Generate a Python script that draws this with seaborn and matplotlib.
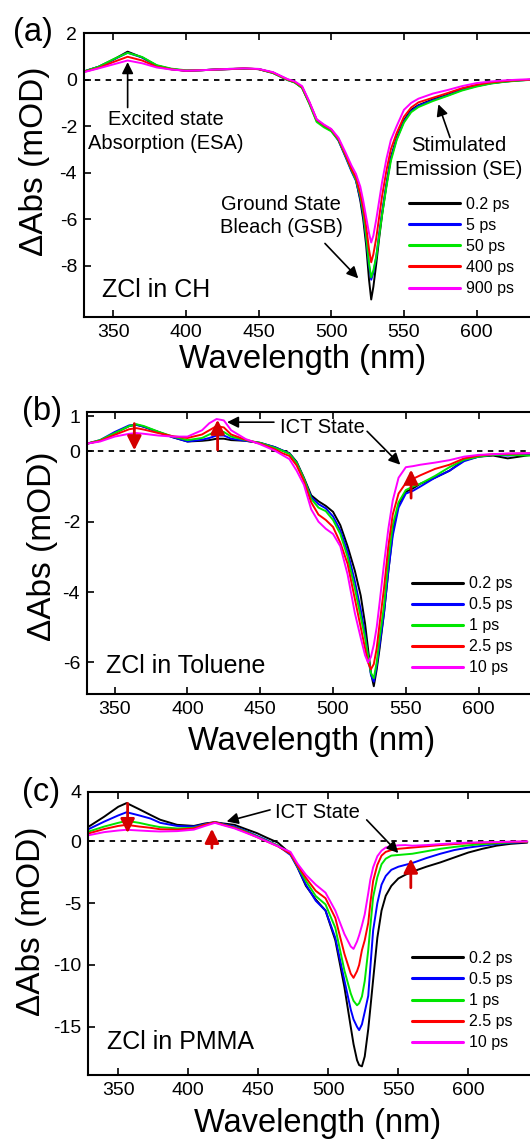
import matplotlib
matplotlib.use("Agg")
import matplotlib.pyplot as plt
import pandas as pd
import seaborn as sns

# ---- panel (a): ZCl in CH ----
wl_a = [330, 340, 350, 360, 370, 380, 390, 400, 410, 420, 430, 440, 450, 460,
        465, 470, 475, 480, 485, 490, 495, 500, 505, 510, 514, 517, 520, 522,
        524, 526, 527.5, 529, 531, 533, 535, 538, 541, 545, 550, 555, 560, 570,
        580, 590, 600, 610, 620, 630, 640]
black_a = [0.35, 0.55, 0.85, 1.2, 0.95, 0.6, 0.45, 0.38, 0.4, 0.43, 0.45, 0.47, 0.45, 0.3,
           0.15, 0.0, -0.12, -0.35, -1.0, -1.75, -1.97, -2.15, -2.6, -3.3, -3.9, -4.3, -5.2, -6.0,
           -7.1, -8.6, -9.45, -8.9, -7.9, -6.8, -5.8, -4.5, -3.35, -2.5, -1.75, -1.3, -1.1, -0.85,
           -0.65, -0.42, -0.27, -0.15, -0.08, -0.03, 0.0]
blue_a = [0.35, 0.55, 0.85, 1.15, 0.95, 0.6, 0.45, 0.38, 0.4, 0.43, 0.45, 0.47, 0.45, 0.28,
          0.13, -0.02, -0.12, -0.35, -1.02, -1.78, -2.0, -2.2, -2.62, -3.35, -3.95, -4.35, -5.1, -5.8,
          -6.8, -8.0, -8.6, -8.3, -7.6, -6.6, -5.7, -4.5, -3.4, -2.55, -1.8, -1.35, -1.12, -0.88,
          -0.68, -0.44, -0.28, -0.16, -0.08, -0.03, 0.0]
green_a = [0.35, 0.55, 0.87, 1.15, 0.97, 0.62, 0.47, 0.4, 0.4, 0.43, 0.46, 0.47, 0.45, 0.28,
           0.13, -0.02, -0.13, -0.36, -1.05, -1.82, -2.05, -2.22, -2.6, -3.3, -3.9, -4.3, -5.0, -5.7,
           -6.7, -7.9, -8.5, -8.2, -7.6, -6.7, -5.8, -4.6, -3.5, -2.6, -1.85, -1.4, -1.18, -0.92,
           -0.7, -0.47, -0.3, -0.17, -0.09, -0.04, 0.0]
red_a = [0.33, 0.5, 0.75, 0.98, 0.82, 0.55, 0.44, 0.38, 0.4, 0.43, 0.45, 0.48, 0.45, 0.3,
         0.15, 0.0, -0.1, -0.32, -0.98, -1.72, -1.96, -2.14, -2.55, -3.25, -3.85, -4.2, -4.9, -5.5,
         -6.3, -7.3, -7.85, -7.5, -6.8, -5.9, -5.0, -3.9, -3.0, -2.3, -1.6, -1.2, -0.98, -0.78,
         -0.58, -0.37, -0.22, -0.12, -0.06, -0.02, 0.0]
magenta_a = [0.32, 0.48, 0.65, 0.82, 0.7, 0.52, 0.43, 0.38, 0.4, 0.43, 0.46, 0.48, 0.46, 0.32,
             0.17, 0.02, -0.08, -0.28, -0.95, -1.7, -1.93, -2.12, -2.5, -3.15, -3.7, -4.05, -4.6, -5.2,
             -5.9, -6.6, -7.0, -6.7, -6.0, -5.2, -4.4, -3.4, -2.6, -2.0, -1.3, -1.0, -0.82, -0.6,
             -0.45, -0.28, -0.15, -0.08, -0.03, 0.0, 0.02]

# ---- panel (b): ZCl in Toluene ----
wl_b = [331, 340, 350, 360, 365, 370, 380, 390, 400, 410, 415, 420, 425, 430, 440, 450,
        460, 465, 470, 475, 480, 485, 490, 495, 500, 505, 510, 515, 519, 522, 524, 526,
        528, 530, 532, 535, 538, 541, 545, 550, 555, 560, 570, 580, 590, 600, 610, 620, 636]
black_b = [0.22, 0.3, 0.52, 0.72, 0.76, 0.7, 0.55, 0.4, 0.28, 0.3, 0.32, 0.36, 0.36, 0.32, 0.3, 0.24,
           0.12, 0.03, -0.05, -0.3, -0.75, -1.25, -1.42, -1.55, -1.72, -2.1, -2.7, -3.4, -4.1, -4.9, -5.6, -6.3,
           -6.68, -6.2, -5.6, -4.6, -3.4, -2.3, -1.5, -1.15, -1.05, -0.92, -0.75, -0.55, -0.25, -0.15, -0.12, -0.2, -0.1]
blue_b = [0.22, 0.32, 0.55, 0.74, 0.75, 0.7, 0.55, 0.4, 0.28, 0.33, 0.38, 0.45, 0.45, 0.36, 0.3, 0.24,
          0.12, 0.03, -0.06, -0.32, -0.78, -1.3, -1.5, -1.62, -1.85, -2.25, -2.85, -3.7, -4.5, -5.2, -5.8, -6.35,
          -6.55, -6.1, -5.5, -4.6, -3.4, -2.4, -1.6, -1.2, -1.12, -1.0, -0.75, -0.55, -0.28, -0.15, -0.1, -0.12, -0.08]
green_b = [0.22, 0.32, 0.52, 0.72, 0.77, 0.72, 0.56, 0.42, 0.32, 0.38, 0.48, 0.57, 0.55, 0.42, 0.32, 0.24,
           0.1, 0.02, -0.07, -0.33, -0.78, -1.35, -1.6, -1.7, -1.95, -2.35, -3.0, -3.9, -4.7, -5.3, -5.8, -6.3,
           -6.45, -6.0, -5.3, -4.4, -3.1, -2.1, -1.45, -1.1, -1.0, -0.92, -0.7, -0.45, -0.24, -0.15, -0.1, -0.1, -0.12]
red_b = [0.22, 0.3, 0.47, 0.63, 0.66, 0.62, 0.52, 0.43, 0.38, 0.48, 0.6, 0.72, 0.68, 0.48, 0.33, 0.22,
         0.06, -0.05, -0.13, -0.4, -0.85, -1.45, -1.8, -1.95, -2.15, -2.6, -3.2, -4.2, -5.0, -5.6, -6.0, -6.2,
         -6.05, -5.6, -4.9, -3.9, -2.7, -1.8, -1.2, -0.9, -0.78, -0.68, -0.5, -0.38, -0.2, -0.12, -0.08, -0.07, -0.05]
magenta_b = [0.22, 0.28, 0.42, 0.5, 0.52, 0.5, 0.45, 0.42, 0.42, 0.6, 0.8, 0.92, 0.88, 0.6, 0.35, 0.2,
             0.02, -0.1, -0.22, -0.55, -0.95, -1.65, -2.0, -2.2, -2.35, -2.7, -3.5, -4.6, -5.3, -5.8, -6.0, -5.85,
             -5.5, -5.0, -4.3, -3.2, -2.2, -1.4, -0.75, -0.45, -0.42, -0.38, -0.32, -0.25, -0.15, -0.1, -0.08, -0.06, -0.05]

# ---- panel (c): ZCl in PMMA ----
wl_c = [329, 340, 350, 356, 365, 373, 380, 392, 404, 412, 419, 425, 433, 441, 449, 456,
        464, 473, 478, 484, 491, 498, 505, 511.5, 516, 518, 520.5, 522, 524, 526, 528.5, 530,
        532, 535, 538, 541, 545, 550, 555, 560, 570, 580, 590, 600, 610, 620, 630, 642]
black_c = [1.2, 2.0, 2.8, 3.1, 2.6, 2.14, 1.75, 1.34, 1.25, 1.45, 1.55, 1.45, 1.34, 1.0, 0.67, 0.3,
           -0.1, -1.0, -2.1, -3.6, -4.7, -5.6, -8.0, -11.8, -15.0, -16.4, -17.7, -18.1, -18.2, -17.4, -15.2, -13.5,
           -11.2, -7.8, -5.6, -4.4, -3.6, -3.0, -2.7, -2.45, -2.05, -1.7, -1.3, -0.9, -0.6, -0.35, -0.2, -0.1]
blue_c = [1.0, 1.6, 2.1, 2.36, 2.1, 1.85, 1.5, 1.25, 1.2, 1.4, 1.55, 1.4, 1.2, 0.85, 0.45, 0.1,
          -0.35, -1.1, -2.1, -3.5, -4.8, -5.6, -7.8, -11.25, -13.6, -14.4, -15.0, -15.27, -14.8, -13.8, -12.5, -10.2,
          -7.2, -5.0, -3.5, -2.8, -2.3, -2.05, -1.9, -1.75, -1.35, -1.0, -0.7, -0.5, -0.35, -0.22, -0.12, -0.05]
green_c = [0.8, 1.2, 1.5, 1.66, 1.5, 1.3, 1.15, 1.05, 1.1, 1.35, 1.55, 1.35, 1.13, 0.8, 0.4, 0.05,
           -0.35, -1.0, -2.0, -3.2, -4.42, -5.1, -7.0, -10.45, -12.3, -12.9, -13.26, -13.1, -12.55, -11.3, -8.8, -6.9,
           -4.5, -2.9, -1.85, -1.4, -1.15, -1.1, -1.05, -1.0, -0.8, -0.6, -0.45, -0.32, -0.22, -0.15, -0.08, -0.03]
red_c = [0.65, 1.0, 1.25, 1.34, 1.2, 1.1, 0.98, 0.95, 1.05, 1.35, 1.55, 1.35, 1.1, 0.75, 0.35, 0.0,
         -0.4, -1.0, -1.95, -2.95, -4.0, -4.6, -6.2, -9.1, -10.7, -11.04, -10.5, -10.0, -8.8, -8.0, -6.6, -5.0,
         -3.2, -1.9, -1.15, -0.85, -0.7, -0.6, -0.55, -0.5, -0.4, -0.3, -0.22, -0.15, -0.1, -0.08, -0.04, -0.02]
magenta_c = [0.5, 0.75, 0.88, 0.94, 0.88, 0.83, 0.8, 0.83, 0.95, 1.25, 1.5, 1.3, 1.05, 0.7, 0.35, 0.0,
             -0.4, -0.85, -1.8, -2.7, -3.5, -4.15, -5.6, -7.5, -8.5, -8.7, -8.1, -7.6, -6.8, -5.9, -4.2, -3.1,
             -2.1, -1.2, -0.75, -0.5, -0.38, -0.32, -0.3, -0.35, -0.3, -0.22, -0.15, -0.1, -0.07, -0.05, -0.02, 0.0]

delays_a = ["0.2 ps", "5 ps", "50 ps", "400 ps", "900 ps"]
delays_bc = ["0.2 ps", "0.5 ps", "1 ps", "2.5 ps", "10 ps"]
colors = ["#000000", "#0000ff", "#00e600", "#ff0000", "#ff00ff"]
arrow_red = "#d40000"

sns.set_style("ticks")
plt.rcParams["font.family"] = ["Liberation Sans", "DejaVu Sans"]
plt.rcParams["text.color"] = "black"
plt.rcParams["axes.labelcolor"] = "black"
plt.rcParams["xtick.color"] = "black"
plt.rcParams["ytick.color"] = "black"
plt.rcParams["axes.unicode_minus"] = False


def long_df(wl, series, labels):
    frames = [pd.DataFrame({"wl": wl, "dA": s, "delay": lab})
              for s, lab in zip(series, labels)]
    return pd.concat(frames, ignore_index=True)


def arrow(ax, tail, head, color="k", lw=1.2, style="-|>", ms=17):
    ax.annotate("", xy=head, xytext=tail,
                arrowprops=dict(arrowstyle=style, color=color, lw=lw,
                                mutation_scale=ms, shrinkA=0, shrinkB=0))


def red_arrow(ax, tail, head):
    arrow(ax, tail, head, color=arrow_red, lw=2.0,
          style="-|>,head_length=0.6,head_width=0.3", ms=14)


def draw_panel(ax, wl, series, labels, xlim, ylim, yticks, leg_xy, ylab_xy, xlab_xy):
    df = long_df(wl, series, labels)
    sns.lineplot(data=df, x="wl", y="dA", hue="delay", hue_order=labels,
                 palette=colors, linewidth=1.4, errorbar=None, ax=ax)
    ax.axhline(0, color="k", ls=(0, (3, 3)), lw=1.3, zorder=1.5)
    ax.set_xlim(*xlim)
    ax.set_ylim(*ylim)
    ax.set_xticks([350, 400, 450, 500, 550, 600])
    ax.set_yticks(yticks)
    ax.tick_params(direction="in", top=True, right=False, length=5, width=1.2,
                   labelsize=14, pad=5, colors="black")
    for side in ["top", "left", "bottom"]:
        ax.spines[side].set_linewidth(1.5)
        ax.spines[side].set_color("k")
    ax.spines["right"].set_visible(False)
    ax.set_xlabel("Wavelength (nm)", fontsize=23.5, va="center")
    ax.set_ylabel("ΔAbs (mOD)", fontsize=24, va="center")
    ax.xaxis.set_label_coords(*xlab_xy)
    ax.yaxis.set_label_coords(*ylab_xy)
    h, l = ax.get_legend_handles_labels()
    leg = ax.legend(h, l, loc="upper left", bbox_to_anchor=leg_xy, frameon=False,
                    borderpad=0, borderaxespad=0, handlelength=3.2,
                    handletextpad=0.35, labelspacing=0.38, fontsize=11.5)
    for line in leg.get_lines():
        line.set_linewidth(2.2)


fig = plt.figure(figsize=(5.3, 11.39), dpi=100)
ax_a = fig.add_axes([0.1585, 0.7217, 0.8415, 0.2493])
ax_b = fig.add_axes([0.1642, 0.3907, 0.8358, 0.2476])
ax_c = fig.add_axes([0.166, 0.0562, 0.834, 0.2485])

draw_panel(ax_a, wl_a, [black_a, blue_a, green_a, red_a, magenta_a], delays_a,
           (330, 636.7), (-10.2, 2), [-8, -6, -4, -2, 0, 2],
           (0.729, 0.423), (-0.110, 0.548), (0.49, -0.148))
draw_panel(ax_b, wl_b, [black_b, blue_b, green_b, red_b, magenta_b], delays_bc,
           (331, 635.3), (-6.9, 1.12), [-6, -4, -2, 0, 1],
           (0.734, 0.418), (-0.101, 0.523), (0.508, -0.17))
draw_panel(ax_c, wl_c, [black_c, blue_c, green_c, red_c, magenta_c], delays_bc,
           (328.4, 644), (-18.9, 4), [-15, -10, -5, 0, 4],
           (0.733, 0.438), (-0.127, 0.542), (0.52, -0.173))

# panel (a) annotations
ax_a.text(386.4, -2.24, "Excited state\nAbsorption (ESA)", ha="center", va="center",
          fontsize=14.5, linespacing=1.3)
arrow(ax_a, (360, -1.2), (360, 0.75))
ax_a.text(587.9, -3.34, "Stimulated\nEmission (SE)", ha="center", va="center",
          fontsize=14.5, linespacing=1.3)
arrow(ax_a, (581.7, -2.49), (573.7, -1.06))
ax_a.text(465.5, -5.87, "Ground State\nBleach (GSB)", ha="center", va="center",
          fontsize=14.5, linespacing=1.3)
arrow(ax_a, (495.7, -7.04), (518.6, -8.54))
ax_a.text(342.2, -9.04, "ZCl in CH", ha="left", va="center", fontsize=18)

# panel (b) annotations
ax_b.text(493, 0.69, "ICT State", ha="center", va="center", fontsize=14.5)
arrow(ax_b, (459.4, 0.83), (427.2, 0.83))
arrow(ax_b, (523.4, 0.57), (546.2, -0.38))
red_arrow(ax_b, (363.5, 0.79), (363.5, 0.03))
red_arrow(ax_b, (420.7, 0.04), (420.7, 0.9))
red_arrow(ax_b, (553.6, -1.33), (553.6, -0.52))
ax_b.text(344.3, -6.11, "ZCl in Toluene", ha="left", va="center", fontsize=18)

# panel (c) annotations
ax_c.text(491.9, 2.36, "ICT State", ha="center", va="center", fontsize=14.5)
arrow(ax_c, (458.4, 2.55), (427.4, 1.61))
arrow(ax_c, (527.4, 1.74), (550, -0.94))
red_arrow(ax_c, (356.7, 3.08), (356.7, 0.67))
red_arrow(ax_c, (416.9, -0.54), (416.9, 1.02))
red_arrow(ax_c, (558.9, -3.75), (558.9, -1.39))
ax_c.text(341.7, -16.2, "ZCl in PMMA", ha="left", va="center", fontsize=18)

# panel letters
fig.text(33 / 530, 1 - 32 / 1139, "(a)", ha="center", va="center", fontsize=23.5)
fig.text(41.5 / 530, 1 - 411.7 / 1139, "(b)", ha="center", va="center", fontsize=23.5)
fig.text(41 / 530, 1 - 792.3 / 1139, "(c)", ha="center", va="center", fontsize=23.5)

fig.savefig("out.png", dpi=100)
plt.close(fig)
